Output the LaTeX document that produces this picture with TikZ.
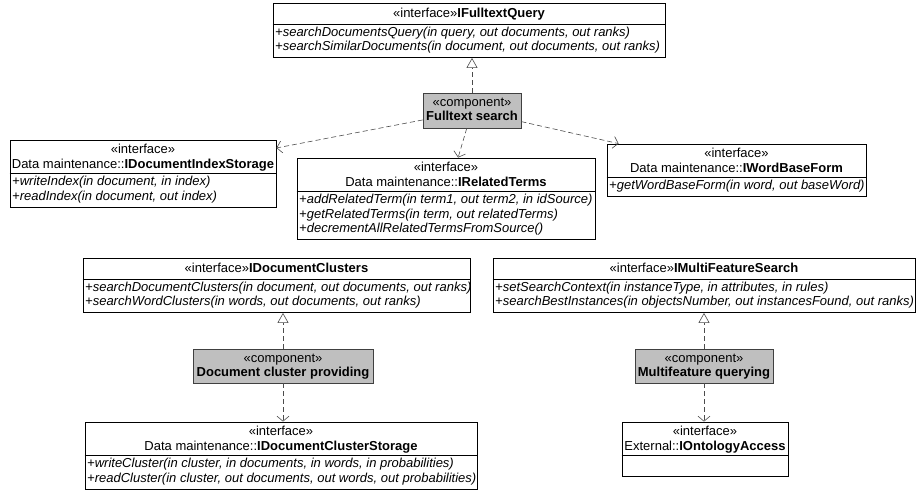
\documentclass[tikz,border=0pt]{standalone}
\usepackage{fontspec}
\setmainfont{Liberation Sans}
\usetikzlibrary{arrows.meta}
\begin{document}
\begin{tikzpicture}[x=1pt,y=-1pt,
  box/.style={draw=black, line width=0.8pt, inner sep=0, fill=white},
  comp/.style={draw=black!75, line width=0.8pt, fill=black!25, inner sep=0},
  hdr/.style={font=\fontsize{13}{14.5}\selectfont, align=center, inner sep=0, anchor=north},
  ops/.style={font=\fontsize{13}{14.5}\selectfont\itshape, align=left, inner sep=0, anchor=north west},
  divl/.style={draw=black, line width=0.8pt},
  dep/.style={draw=black!70, line width=0.6pt, dash pattern=on 5pt off 3pt, -{Straight Barb[length=5pt,width=12pt,line width=0.6pt]}},
  real/.style={draw=black!70, line width=0.6pt, dash pattern=on 5pt off 3pt, -{Triangle[open,length=10pt,width=11pt,line width=0.6pt]}}
]
\useasboundingbox (0,0) rectangle (922,493);

% IFulltextQuery  (273-665, 3-57.5)
\node[box, minimum width=392, minimum height=54.5] (ifq) at (469,30.25) {};
\draw[divl] (ifq.west |- 0,24) -- (ifq.east |- 0,24);
\node[hdr] (ifqh) at (469,7.5) {«interface»\textbf{IFulltextQuery}};
\node[ops] (ifqo) at (275,26.5) {+searchDocumentsQuery(in query, out documents, out ranks)\\+searchSimilarDocuments(in document, out documents, out ranks)};

% Fulltext search component (423-521, 93-128)
\node[comp, minimum width=98, minimum height=35] (fs) at (472,110.5) {};
\node[hdr] (fsh) at (472,97.5) {«component»\\\textbf{Fulltext search}};

% IDocumentIndexStorage (10-276, 140-207)
\node[box, minimum width=266, minimum height=67] (idx) at (143,173.5) {};
\draw[divl] (idx.west |- 0,173.5) -- (idx.east |- 0,173.5);
\node[hdr] (idxh) at (143,144) {«interface»\\Data maintenance::\textbf{IDocumentIndexStorage}};
\node[ops] (idxo) at (12,176) {+writeIndex(in document, in index)\\+readIndex(in document, out index)};

% IRelatedTerms (297-595, 158-239.5)
\node[box, minimum width=298, minimum height=81.5] (rt) at (446,198.75) {};
\draw[divl] (rt.west |- 0,191.5) -- (rt.east |- 0,191.5);
\node[hdr] (rth) at (446,162) {«interface»\\Data maintenance::\textbf{IRelatedTerms}};
\node[ops] (rto) at (299,194) {+addRelatedTerm(in term1, out term2, in idSource)\\+getRelatedTerms(in term, out relatedTerms)\\+decrementAllRelatedTermsFromSource()};

% IWordBaseForm (607-866, 144-196.5)
\node[box, minimum width=259, minimum height=52.5] (wbf) at (736.5,170.25) {};
\draw[divl] (wbf.west |- 0,177.5) -- (wbf.east |- 0,177.5);
\node[hdr] (wbfh) at (736.5,148) {«interface»\\Data maintenance::\textbf{IWordBaseForm}};
\node[ops] (wbfo) at (609,180) {+getWordBaseForm(in word, out baseWord)};

% IDocumentClusters (83-470, 258-312.5)
\node[box, minimum width=387, minimum height=54.5] (dc) at (276.5,285.25) {};
\draw[divl] (dc.west |- 0,279) -- (dc.east |- 0,279);
\node[hdr] (dch) at (276.5,262.5) {«interface»\textbf{IDocumentClusters}};
\node[ops] (dco) at (85,281.5) {+searchDocumentClusters(in document, out documents, out ranks)\\+searchWordClusters(in words, out documents, out ranks)};

% IMultiFeatureSearch (493-915, 258-312.5)
\node[box, minimum width=422, minimum height=54.5] (mfs) at (704,285.25) {};
\draw[divl] (mfs.west |- 0,279) -- (mfs.east |- 0,279);
\node[hdr] (mfsh) at (704,262.5) {«interface»\textbf{IMultiFeatureSearch}};
\node[ops] (mfso) at (495,281.5) {+setSearchContext(in instanceType, in attributes, in rules)\\+searchBestInstances(in objectsNumber, out instancesFound, out ranks)};

% Document cluster providing (193-373, 349-383)
\node[comp, minimum width=180, minimum height=34] (dcp) at (283,366) {};
\node[hdr] (dcph) at (283,353.5) {«component»\\\textbf{Document cluster providing}};

% Multifeature querying (635-773, 349-383)
\node[comp, minimum width=138, minimum height=34] (mq) at (704,366) {};
\node[hdr] (mqh) at (704,353.5) {«component»\\\textbf{Multifeature querying}};

% IDocumentClusterStorage (85-477, 422-489)
\node[box, minimum width=392, minimum height=67] (dcs) at (281,455.5) {};
\draw[divl] (dcs.west |- 0,455.5) -- (dcs.east |- 0,455.5);
\node[hdr] (dcsh) at (281,426) {«interface»\\Data maintenance::\textbf{IDocumentClusterStorage}};
\node[ops] (dcso) at (87,458) {+writeCluster(in cluster, in documents, in words, in probabilities)\\+readCluster(in cluster, out documents, out words, out probabilities)};

% IOntologyAccess (622-788, 422-476)
\node[box, minimum width=166, minimum height=54] (onto) at (705,449) {};
\draw[divl] (onto.west |- 0,455.5) -- (onto.east |- 0,455.5);
\node[hdr] (ontoh) at (705,426) {«interface»\\External::\textbf{IOntologyAccess}};

% connectors
\draw[real] (fs.north) -- (fs.north |- ifq.south);
\draw[dep] (fs) -- (idx);
\draw[dep] (fs) -- (rt);
\draw[dep] (fs) -- (wbf);
\draw[real] (dcp.north) -- (dcp.north |- dc.south);
\draw[dep] (dcp.south) -- (dcp.south |- dcs.north);
\draw[real] (mq.north) -- (mq.north |- mfs.south);
\draw[dep] (mq.south) -- (mq.south |- onto.north);
\end{tikzpicture}
\end{document}
